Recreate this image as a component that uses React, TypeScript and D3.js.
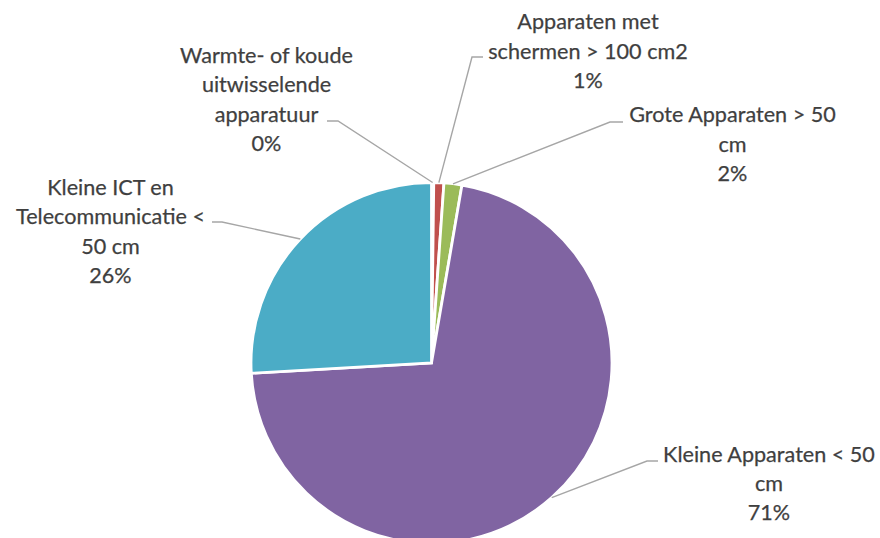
import React from "react";
import * as d3 from "d3";

const categories = [
  "Warmte- of koude uitwisselende apparatuur",
  "Apparaten met schermen > 100 cm2",
  "Grote Apparaten > 50 cm",
  "Kleine Apparaten < 50 cm",
  "Kleine ICT en Telecommunicatie < 50 cm",
];
const values = [0.2, 0.9, 1.6, 71.4, 25.9];
const colors = ["#F79646", "#C0504D", "#9BBB59", "#8064A2", "#4BACC6"];
const labelLines = [
  ["Warmte- of koude", "uitwisselende", "apparatuur"],
  ["Apparaten met", "schermen > 100 cm2"],
  ["Grote Apparaten > 50", "cm"],
  ["Kleine Apparaten < 50", "cm"],
  ["Kleine ICT en", "Telecommunicatie <", "50 cm"],
];

// layout of labels: text center x, first baseline y, leader start & elbow
const labelLayout = [
  { cx: 266.5, y0: 63, sx: 327, ex: 338, ly: 121 },
  { cx: 588, y0: 29.3, sx: 483, ex: 472, ly: 57 },
  { cx: 732.5, y0: 122.3, sx: 623, ex: 610, ly: 122 },
  { cx: 769, y0: 461.7, sx: 658, ex: 647, ly: 461 },
  { cx: 110.5, y0: 195, sx: 212, ex: 222, ly: 222 },
];

const W = 880;
const H = 538;
const cx = 431.5;
const cy = 363;
const R = 180.5;
const lineH = 29.3;

export default function App() {
  const total = d3.sum(values);
  const pie = d3
    .pie<number>()
    .sort(null)
    .value((d) => d)
    .startAngle(0)
    .endAngle(2 * Math.PI);
  const arcs = pie(values);
  const arcGen = d3.arc<d3.PieArcDatum<number>>().innerRadius(0).outerRadius(R);
  const fmt = (v: number) => `${Math.round((v / total) * 100)}%`;

  return (
    <svg
      width={W}
      height={H}
      style={{ position: "absolute", left: 0, top: 0, background: "#fff" }}
      fontFamily="Lato, 'Open Sans', sans-serif"
    >
      <g transform={`translate(${cx},${cy})`}>
        {arcs.map((a, i) => (
          <path
            key={categories[i]}
            d={arcGen(a) || ""}
            fill={colors[i]}
            stroke="#fff"
            strokeWidth={2.8}
            strokeLinejoin="miter"
          />
        ))}
      </g>
      {arcs.map((a, i) => {
        const mid = (a.startAngle + a.endAngle) / 2;
        const px = cx + R * Math.sin(mid);
        const py = cy - R * Math.cos(mid);
        const L = labelLayout[i];
        return (
          <polyline
            key={"l" + i}
            points={`${L.sx},${L.ly} ${L.ex},${L.ly} ${px},${py}`}
            fill="none"
            stroke="#A6A6A6"
            strokeWidth={1.4}
          />
        );
      })}
      {arcs.map((a, i) => {
        const L = labelLayout[i];
        const lines = [...labelLines[i], fmt(values[i])];
        return (
          <text
            key={"t" + i}
            textAnchor="middle"
            fill="#3F3F3F"
            fontSize={21.6}
            stroke="#3F3F3F"
            strokeWidth={0.25}
          >
            {lines.map((ln, j) => (
              <tspan key={j} x={L.cx} y={L.y0 + j * lineH}>
                {ln}
              </tspan>
            ))}
          </text>
        );
      })}
    </svg>
  );
}
